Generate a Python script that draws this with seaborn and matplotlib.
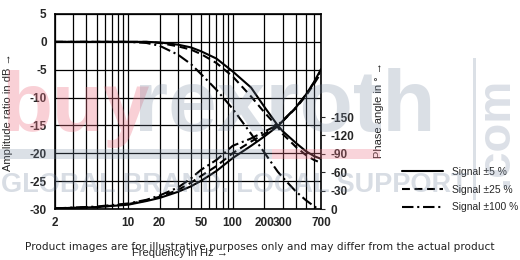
import matplotlib
matplotlib.use("Agg")
import matplotlib.pyplot as plt
import seaborn as sns
from matplotlib import font_manager
from matplotlib.ticker import FixedLocator, FixedFormatter, NullFormatter
from matplotlib.lines import Line2D
from matplotlib.patches import Rectangle

# ---------------- data ----------------
freq = [2, 5, 10, 15, 20, 30, 40, 50, 70, 100, 150, 200, 270, 300, 400, 500, 600, 700]

amp_5 = [0, 0, 0, 0, -0.1, -0.5, -1.0, -1.7, -3.0, -5.3, -8.2, -11.6, -15.0, -16.0, -18.1, -19.6, -20.5, -21.0]
amp_25 = [0, 0, 0, 0, -0.2, -0.8, -1.4, -2.2, -3.8, -6.2, -9.8, -12.6, -15.3, -16.5, -18.8, -20.3, -21.2, -21.7]
amp_100 = [0, 0, 0, -0.2, -0.7, -2.3, -4.0, -5.8, -8.6, -12.0, -16.5, -19.8, -23.3, -24.3, -26.8, -28.4, -29.5, -30.3]

phase_5 = [-1, -3, -7, -13, -18, -28, -37, -46, -62, -83, -103, -118, -135, -143, -165, -186, -207, -228]
phase_25 = [-1, -3, -8, -14, -20, -31, -43, -54, -70, -91, -110, -122, -136, -143, -164, -184, -204, -222]
phase_100 = [-1, -4, -9, -15, -22, -35, -50, -64, -80, -103, -115, -126, -137, -144, -165, -186, -206, -226]

x_ticks = [2, 10, 20, 50, 100, 200, 300, 700]
x_tick_labels = ["2", "10", "20", "50", "100", "200", "300", "700"]
x_grid = [2, 3, 4, 5, 6, 7, 8, 9, 10, 20, 30, 40, 50, 60, 70, 80, 90, 100,
          200, 300, 400, 500, 600, 700]
amp_ticks = [-30, -25, -20, -15, -10, -5, 0, 5]
phase_ticks = [-150, -120, -90, -60, -30, 0]
legend_labels = ["Signal \u00b15 %", "Signal \u00b125 %", "Signal \u00b1100 %"]

# ---------------- style ----------------
sns.set_style("white")
avail = {f.name for f in font_manager.fontManager.ttflist}
narrow = "Liberation Sans Narrow" if "Liberation Sans Narrow" in avail else "Liberation Sans"
plt.rcParams["font.family"] = [narrow, "DejaVu Sans"]
plt.rcParams["axes.linewidth"] = 1.2

W, H = 520, 260
fig = plt.figure(figsize=(W / 100, H / 100), dpi=100)
fig.patch.set_facecolor("white")


def fx(px):
    return px / W


def fy(py):
    return 1 - py / H


ax = fig.add_axes([fx(55), fy(209), (321 - 55) / W, (209 - 14) / H])
ax.set_xscale("log")
ax.set_xlim(2, 700)
ax.set_ylim(-30, 5)

styles = ["-", (0, (3.8, 2.2)), (0, (5.5, 1.8, 1.0, 1.8))]
lw = 1.5
amps = [amp_5, amp_25, amp_100]
phases = [phase_5, phase_25, phase_100]

for data, ls in zip(amps, styles):
    sns.lineplot(x=freq, y=data, ax=ax, color="black", linewidth=lw, linestyle=ls,
                 legend=False, zorder=3)

ax2 = ax.twinx()
for data, ls in zip(phases, styles):
    sns.lineplot(x=freq, y=data, ax=ax2, color="black", linewidth=lw, linestyle=ls,
                 legend=False, zorder=3)
ax2.set_ylim(0, -318)
ax2.set_yticks(phase_ticks)
ax2.set_yticklabels([str(t) for t in phase_ticks])
ax2.tick_params(axis="y", length=3, width=0.8, pad=4, labelsize=8.5, direction="out")
for lab in ax2.get_yticklabels():
    lab.set_fontweight("bold")
ax2.set_ylabel("")
ax2.set_xlabel("")
for s in ax2.spines.values():
    s.set_visible(False)

# x axis (shared) - set after twin creation
ax.set_xlim(2, 700)
ax.xaxis.set_major_locator(FixedLocator(x_ticks))
ax.xaxis.set_major_formatter(FixedFormatter(x_tick_labels))
ax.xaxis.set_minor_locator(FixedLocator(x_grid))
ax.xaxis.set_minor_formatter(NullFormatter())
ax.set_yticks(amp_ticks)
ax.set_yticklabels([str(t) for t in amp_ticks])
ax.tick_params(axis="both", which="both", length=0)
ax.tick_params(axis="x", pad=6, labelsize=8.5)
ax.tick_params(axis="y", pad=6, labelsize=8.5)
for lab in ax.get_xticklabels() + ax.get_yticklabels():
    lab.set_fontweight("bold")
ax.grid(True, which="both", axis="x", color="black", linewidth=0.9)
ax.grid(True, which="major", axis="y", color="black", linewidth=0.9)
ax.set_xlabel("")
ax.set_ylabel("")
for s in ax.spines.values():
    s.set_color("black")

# axis titles
fig.text(fx(180), fy(253), "Frequency in Hz \u2192", ha="center", va="center", fontsize=8)
fig.text(fx(8), fy(112), "Amplitude ratio in dB \u2192", rotation=90, ha="center",
         va="center", fontsize=8)
fig.text(fx(379), fy(110), "Phase angle in \u00b0 \u2192", rotation=90, ha="center",
         va="center", fontsize=8)

# legend
handles = [Line2D([], [], color="black", linewidth=lw, linestyle=ls) for ls in styles]
fig.legend(handles, legend_labels, loc="upper left", bbox_to_anchor=(fx(402), fy(167)),
           frameon=False, fontsize=7.4, handlelength=4.0, handletextpad=0.9,
           labelspacing=0.75, borderpad=0, borderaxespad=0)

# disclaimer
fig.text(0.5, fy(247), "Product images are for illustrative purposes only and may differ from the actual product",
         ha="center", va="center", fontsize=7.6, family="DejaVu Sans", color="#222222")

# watermark overlay
pink = (0.93, 0.45, 0.52)
grey = (0.45, 0.52, 0.62)
wm_font = [narrow, "DejaVu Sans"]
fig.text(fx(1), fy(131), "buy", ha="left", va="baseline", fontsize=60, fontweight="bold",
         color=pink, alpha=0.33, family=wm_font, zorder=20)
fig.text(fx(134), fy(131), "rexroth", ha="left", va="baseline", fontsize=63, fontweight="bold",
         color=grey, alpha=0.26, family=wm_font, zorder=20)
fig.text(fx(1), fy(185), "GLOBAL BRAND. LOCAL SUPPORT", ha="left", va="center", fontsize=19.5,
         fontweight="bold", color=grey, alpha=0.28, family=wm_font, zorder=20)
fig.text(fx(496), fy(132), ".com", rotation=90, ha="center", va="center", fontsize=34,
         fontweight="bold", color=grey, alpha=0.25, family=wm_font, zorder=20)
fig.patches.append(Rectangle((fx(0), fy(159)), fx(272), (159 - 149) / H, transform=fig.transFigure,
                             color=grey, alpha=0.25, zorder=20, linewidth=0))
fig.patches.append(Rectangle((fx(272), fy(159)), fx(108), (159 - 149) / H, transform=fig.transFigure,
                             color=pink, alpha=0.3, zorder=20, linewidth=0))
fig.patches.append(Rectangle((fx(473), fy(200)), fx(3), (200 - 58) / H, transform=fig.transFigure,
                             color=grey, alpha=0.25, zorder=20, linewidth=0))

fig.savefig("out.png", dpi=100, facecolor="white")
